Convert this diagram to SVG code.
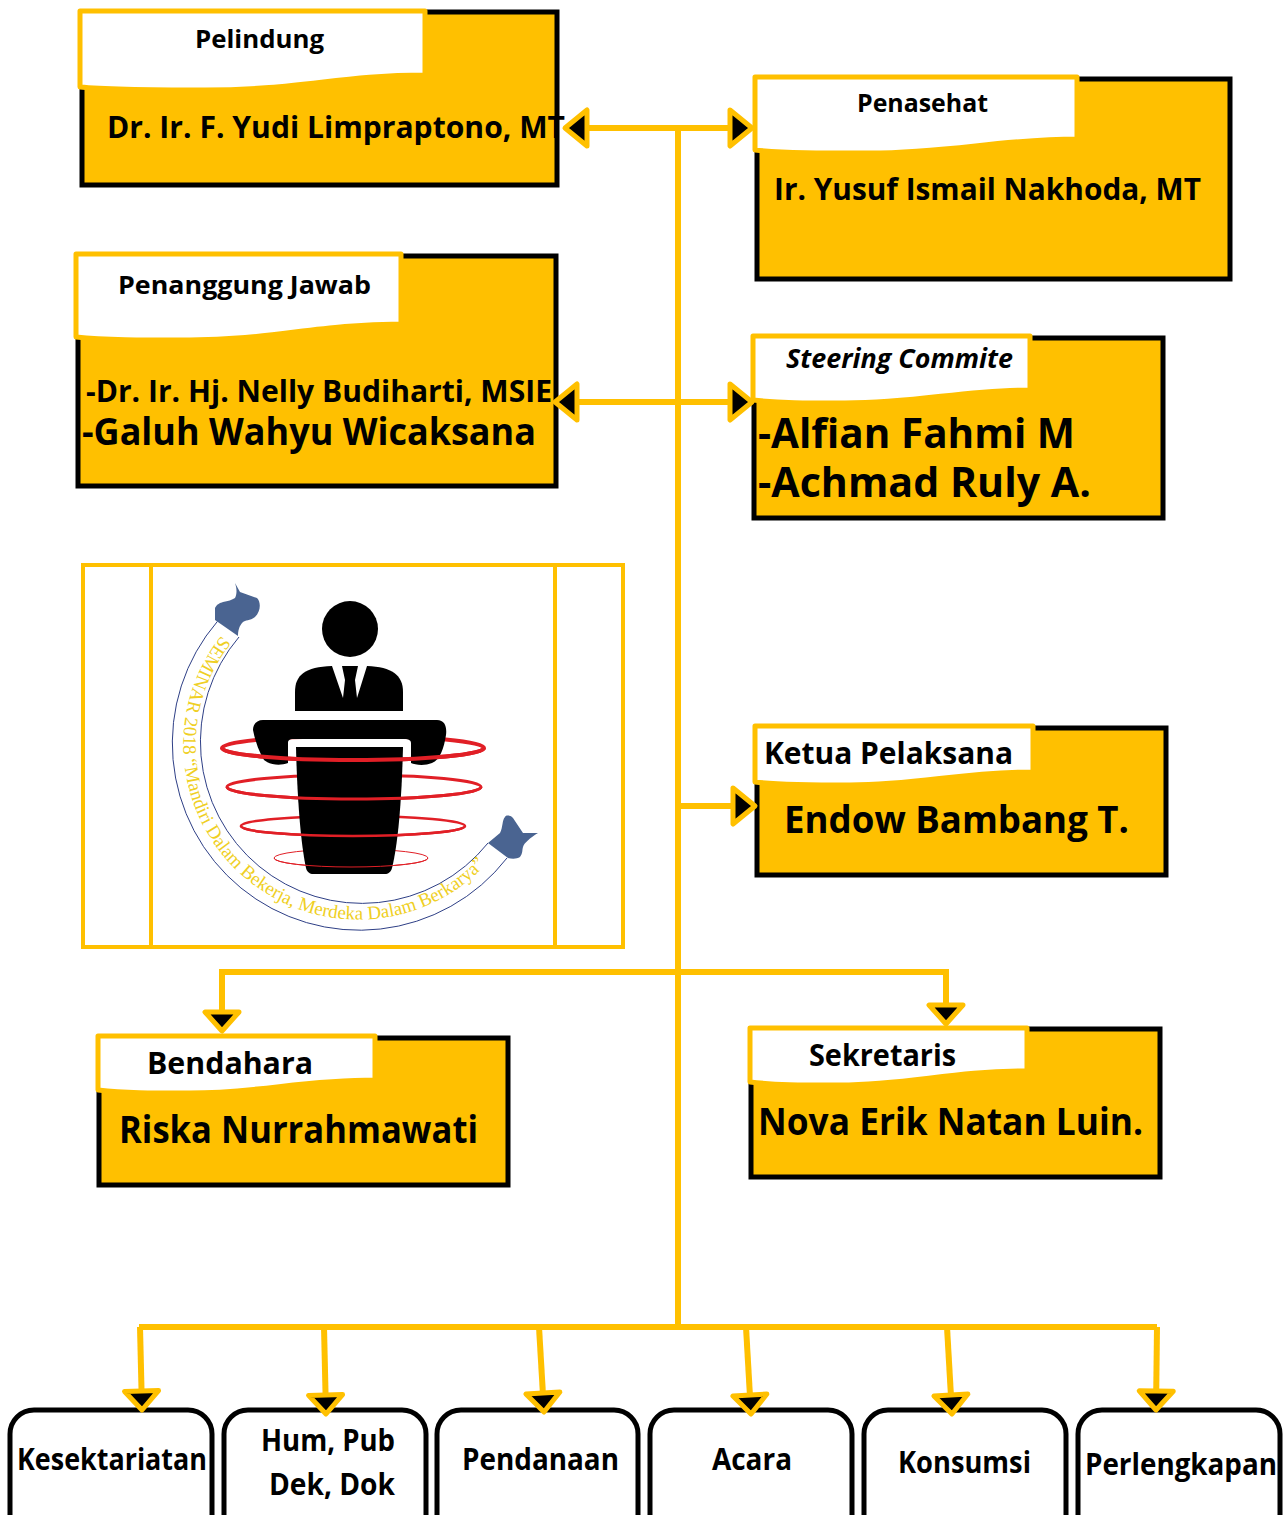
<svg xmlns="http://www.w3.org/2000/svg" width="1285" height="1515" viewBox="0 0 1285 1515">
<style>
.body{fill:#FFC000;stroke:#000;stroke-width:5}
.tab{fill:#fff;stroke:#FFC000;stroke-width:5;stroke-linejoin:round}
.box{fill:#fff;stroke:#000;stroke-width:5}
text{font-family:"Open Sans","Noto Sans","Liberation Sans",sans-serif;font-weight:700;fill:#000}
.c{fill:none;stroke:#FFC000;stroke-width:6}
.blk{fill:#000}
.wht{fill:#fff}
.ring{fill:none;stroke:#E11F26}
.rib{fill:none;stroke:#2E3F86;stroke-width:1}
.flag{fill:#4A6491}
</style>
<defs>
<marker id="arrowH" markerUnits="userSpaceOnUse" markerWidth="60" markerHeight="60" viewBox="-15 -30 60 60" refX="22" refY="0" orient="auto">
<path d="M0,-18 L22,0 L0,18 Z" fill="#000" stroke="#FFC000" stroke-width="5" stroke-linejoin="round"/>
</marker>
<marker id="arrowV" markerUnits="userSpaceOnUse" markerWidth="60" markerHeight="60" viewBox="-15 -30 60 60" refX="19" refY="0" orient="auto">
<path d="M0,-17 L19,0 L0,17 Z" fill="#000" stroke="#FFC000" stroke-width="5" stroke-linejoin="round"/>
</marker>
</defs>
<rect width="1285" height="1515" fill="#fff"/>

<g id="pelindung">
<rect class="body" x="82" y="12" width="475" height="173"/>
<path class="tab" d="M80,11 H425 V75 C340,75 300,90 205,90 C150,90 110,90 80,87 Z"/>
<text x="195" y="48" font-size="25" textLength="129" lengthAdjust="spacingAndGlyphs">Pelindung</text>
<text x="107" y="138" font-size="31" textLength="458" lengthAdjust="spacingAndGlyphs">Dr. Ir. F. Yudi Limpraptono, MT</text>
</g>
<g id="penasehat">
<rect class="body" x="757" y="79" width="473" height="200"/>
<path class="tab" d="M755,77 H1077 V139 C1000,139 950,153 870,153 C820,153 785,153 755,150 Z"/>
<text x="857" y="112" font-size="25" textLength="131" lengthAdjust="spacingAndGlyphs">Penasehat</text>
<text x="774" y="200" font-size="31" textLength="427" lengthAdjust="spacingAndGlyphs">Ir. Yusuf Ismail Nakhoda, MT</text>
</g>
<g id="penanggung-jawab">
<rect class="body" x="78" y="256" width="478" height="230"/>
<path class="tab" d="M76,254 H401 V324 C320,324 270,340 190,340 C140,340 105,340 76,337 Z"/>
<text x="118" y="294" font-size="25" textLength="253" lengthAdjust="spacingAndGlyphs">Penanggung Jawab</text>
<text x="86" y="402" font-size="31" textLength="466" lengthAdjust="spacingAndGlyphs">-Dr. Ir. Hj. Nelly Budiharti, MSIE</text>
<text x="82" y="445" font-size="37" textLength="454" lengthAdjust="spacingAndGlyphs">-Galuh Wahyu Wicaksana</text>
</g>
<g id="steering-commite">
<rect class="body" x="754" y="338" width="409" height="180"/>
<path class="tab" d="M753,336 H1030 V390 C960,390 920,403 845,403 C805,403 780,403 753,400 Z"/>
<text x="786" y="368" font-size="26" font-style="italic" textLength="227" lengthAdjust="spacingAndGlyphs">Steering Commite</text>
<text x="758" y="448" font-size="42" textLength="317" lengthAdjust="spacingAndGlyphs">-Alfian Fahmi M</text>
<text x="758" y="497" font-size="42" textLength="333" lengthAdjust="spacingAndGlyphs">-Achmad Ruly A.</text>
</g>
<g id="logo">
<rect x="83" y="565" width="540" height="382" fill="#fff" stroke="#FFC000" stroke-width="4"/>
<path d="M151,565 V947 M555,565 V947" fill="none" stroke="#FFC000" stroke-width="4"/>
<path class="rib" d="M217.500,621.300 A187.030,187.030 0 1 0 507,858"/>
<path class="rib" d="M239,637 A161.600,161.600 0 1 0 488,843"/>
<path class="flag" d="M235,583 L240,592 L257,598 C261,602 261,611 255,617 C250,621 245,620 243,622 C239,626 238,631 238,636 L215,620 L215,608 C217,604 220,603 223,602 C228,601 232,600 235,598 C237,594 237,589 235,583 Z"/>
<path class="flag" d="M538,833 L523,833 L513,818 C510,815 506,815 505,817 C502,820 503,827 500,833 L488,843 L508,858 C512,859 517,859 520,857 C523,853 522,850 523,847 C524,843 530,838 538,833 Z"/>
<path id="logoArc" d="M221.500,635.500 A175,175 0 0 0 489,861" fill="none"/>
<text style="font-family:'Liberation Serif',serif;font-weight:400;fill:#EFCF23" font-size="19" textLength="535" lengthAdjust="spacingAndGlyphs"><textPath href="#logoArc">SEMINAR 2018 “Mandiri Dalam Bekerja, Merdeka Dalam Berkarya”</textPath></text>
<ellipse class="ring" cx="353" cy="748" rx="131" ry="12" stroke-width="4"/>
<ellipse class="ring" cx="354" cy="787" rx="127" ry="12" stroke-width="3"/>
<ellipse class="ring" cx="353" cy="826" rx="112" ry="10" stroke-width="2.500"/>
<ellipse class="ring" cx="351" cy="858" rx="77" ry="9" stroke-width="1"/>
<circle class="blk" cx="350" cy="629" r="28"/>
<path class="blk" d="M295,711 V692 C295,675 305,667 332,666 H367 C392,667 403,675 403,692 V711 Z"/>
<path class="wht" d="M332,666 L343,698 L345,680 L342,666 Z M357,698 L367,666 L358,666 L355,680 Z"/>
<path class="blk" d="M263,720 H437 C445,720 447,727 446,735 C444,748 440,760 432,763 C425,766 415,765 411,763 V743 C411,740 408,739 405,739 H293 C290,739 288,740 288,743 V763 C280,766 270,765 264,760 C258,750 255,740 253,730 C253,724 257,720 263,720 Z"/>
<path class="blk" d="M296,747 H403 C402,790 399,840 392,868 C391,872 388,874 385,874 H313 C310,874 307,872 306,868 C300,840 297,790 296,747 Z"/>
<path class="ring" stroke-width="4" d="M222,748 A131,12 0 0 0 484,748"/>
<path class="ring" stroke-width="3" d="M227,787 A127,12 0 0 0 481,787"/>
<path class="ring" stroke-width="2.500" d="M241,826 A112,10 0 0 0 465,826"/>
<path class="ring" stroke-width="1" d="M274,858 A77,9 0 0 0 428,858"/>
</g>
<g id="ketua-pelaksana">
<rect class="body" x="757" y="728" width="409" height="147"/>
<path class="tab" d="M755,726 H1033 V772 C960,772 920,785 850,785 C810,785 780,785 755,782 Z"/>
<text x="764" y="764" font-size="31" textLength="249" lengthAdjust="spacingAndGlyphs">Ketua Pelaksana</text>
<text x="784" y="833" font-size="37" textLength="345" lengthAdjust="spacingAndGlyphs">Endow Bambang T.</text>
</g>
<g id="bendahara">
<rect class="body" x="99" y="1038" width="409" height="147"/>
<path class="tab" d="M98,1036 H375 V1080 C300,1080 260,1093 190,1093 C150,1093 125,1093 98,1090 Z"/>
<text x="147" y="1074" font-size="31" textLength="166" lengthAdjust="spacingAndGlyphs">Bendahara</text>
<text x="119" y="1143" font-size="37" textLength="359" lengthAdjust="spacingAndGlyphs">Riska Nurrahmawati</text>
</g>
<g id="sekretaris">
<rect class="body" x="751" y="1029" width="409" height="148"/>
<path class="tab" d="M750,1028 H1027 V1071 C950,1071 910,1085 840,1085 C800,1085 775,1085 750,1082 Z"/>
<text x="809" y="1066" font-size="31" textLength="147" lengthAdjust="spacingAndGlyphs">Sekretaris</text>
<text x="758" y="1135" font-size="37" textLength="385" lengthAdjust="spacingAndGlyphs">Nova Erik Natan Luin.</text>
</g>
<g id="kesektariatan"><rect class="box" x="10" y="1410" width="202" height="130" rx="24"/><text x="17" y="1470" font-size="30" textLength="190" lengthAdjust="spacingAndGlyphs">Kesektariatan</text></g>
<g id="hum-pub"><rect class="box" x="224" y="1410" width="202" height="130" rx="24"/><text x="261" y="1451" font-size="30" textLength="134" lengthAdjust="spacingAndGlyphs">Hum, Pub</text><text x="269" y="1495" font-size="30" textLength="126" lengthAdjust="spacingAndGlyphs">Dek, Dok</text></g>
<g id="pendanaan"><rect class="box" x="437" y="1410" width="201" height="130" rx="24"/><text x="462" y="1470" font-size="30" textLength="157" lengthAdjust="spacingAndGlyphs">Pendanaan</text></g>
<g id="acara"><rect class="box" x="650" y="1410" width="202" height="130" rx="24"/><text x="712" y="1470" font-size="30" textLength="80" lengthAdjust="spacingAndGlyphs">Acara</text></g>
<g id="konsumsi"><rect class="box" x="864" y="1410" width="202" height="130" rx="24"/><text x="898" y="1473" font-size="30" textLength="133" lengthAdjust="spacingAndGlyphs">Konsumsi</text></g>
<g id="perlengkapan"><rect class="box" x="1078" y="1410" width="202" height="130" rx="24"/><text x="1085" y="1475" font-size="30" textLength="192" lengthAdjust="spacingAndGlyphs">Perlengkapan</text></g>

<g id="connectors">
<path class="c" d="M678,128 V1327"/>
<path class="c" d="M678,128 H565" marker-end="url(#arrowH)"/>
<path class="c" d="M678,128 H752" marker-end="url(#arrowH)"/>
<path class="c" d="M678,402 H555" marker-end="url(#arrowH)"/>
<path class="c" d="M678,402 H752" marker-end="url(#arrowH)"/>
<path class="c" d="M678,806 H755" marker-end="url(#arrowH)"/>
<path class="c" d="M946,972 H222 L222,1031" marker-end="url(#arrowV)"/>
<path class="c" d="M678,972 H946 V1024" marker-end="url(#arrowV)"/>
<path class="c" d="M139,1327 H1157"/>
<path class="c" d="M140,1327 L142,1410" marker-end="url(#arrowV)"/>
<path class="c" d="M324,1327 L326,1414" marker-end="url(#arrowV)"/>
<path class="c" d="M539,1327 L544,1412" marker-end="url(#arrowV)"/>
<path class="c" d="M746,1327 L751,1414" marker-end="url(#arrowV)"/>
<path class="c" d="M947,1327 L952,1414" marker-end="url(#arrowV)"/>
<path class="c" d="M1157,1327 L1156,1410" marker-end="url(#arrowV)"/>
</g>
</svg>
